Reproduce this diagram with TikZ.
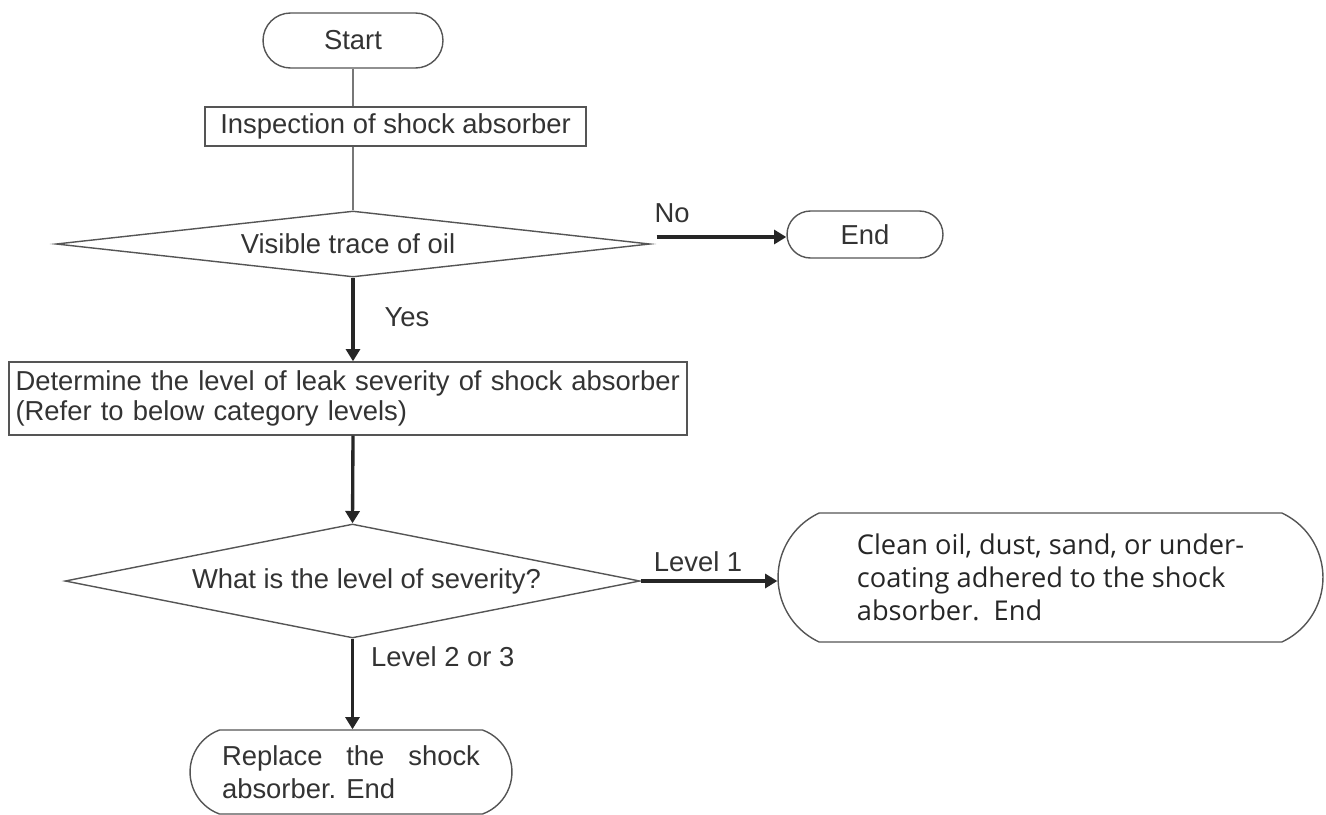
\documentclass[tikz,border=0pt]{standalone}
\usepackage{fontspec}
\setmainfont{Liberation Sans}
\newfontfamily\cleanfont{Open Sans}
\usepackage{xcolor}
\usepackage{tikz}
\usetikzlibrary{positioning,arrows.meta,shapes.geometric,shapes.misc}

\definecolor{edgegray}{HTML}{555555}
\definecolor{inkgray}{HTML}{333333}

\begin{document}
\begin{tikzpicture}[x=0.02cm, y=-0.02cm,
  every node/.style={text=inkgray, font=\fontsize{15.6}{17}\selectfont},
  terminal/.style={draw=edgegray, line width=0.8pt, rounded rectangle, inner sep=0pt},
  process/.style={draw=edgegray, line width=0.8pt, rectangle, inner sep=0pt},
  decision/.style={draw=edgegray, line width=0.8pt, diamond, aspect=10, inner xsep=-2cm, inner ysep=-0.2cm},
  flow/.style={-{Triangle[length=7pt,width=8pt]}, line width=1.9pt, black!85},
  link/.style={draw=edgegray!80, line width=0.6pt},
  tag/.style={inner sep=0pt}]
\useasboundingbox (0,0) rectangle (1326,815);

\node[terminal, minimum width=3.6cm, minimum height=1.1cm] (start) at (353,40.5) {Start};
\node[process, minimum width=7.62cm, minimum height=0.78cm] (inspect) at (395.5,126.5) {Inspection of shock absorber};
\node[decision, minimum width=11.88cm, minimum height=1.32cm] (trace) at (353,244) {Visible trace of oil\hspace*{0.2cm}};
\node[terminal, minimum width=3.12cm, minimum height=0.94cm] (stop) at (865,234.5) {End};
\node[process, minimum width=13.56cm, minimum height=1.46cm, text width=13.3cm, align=left] (level) at (348,398.5)
    {Determine the level of leak severity of shock absorber\\(Refer to below category levels)};
\node[decision, minimum width=11.5cm, minimum height=2.28cm] (severity) at (352.5,581)
    {\hspace*{0.56cm}What is the level of severity?};
\node[terminal, rounded rectangle arc length=130, minimum width=10.9cm, minimum height=2.58cm, align=left,
    font=\cleanfont\fontsize{15.5}{18.8}\selectfont, text=black!85] (clean) at (1050.5,577.5)
    {Clean oil, dust, sand, or under-\\coating adhered to the shock\\absorber.\ \ End};
\node[terminal, rounded rectangle arc length=140, minimum width=6.44cm, minimum height=1.68cm, text width=5.16cm,
    align=justify, font=\fontsize{15.6}{18.8}\selectfont] (replace) at (351,772) {Replace the shock absorber. End};

% connectors
\draw[link] (start.south) -- (start.south |- inspect.north);
\draw[link] (start.south |- inspect.south) -- (trace.north);
\draw[flow] ([xshift=0.12cm,yshift=0.14cm]trace.east) -- ([yshift=0.14cm]trace.east -| stop.west)
    node[tag, pos=0.12, above=0.25cm] {No};
\draw[flow] (trace.south) -- (trace.south |- level.north)
    node[tag, pos=0.47, right=0.6cm] {Yes};
\draw[flow] (trace.south |- level.south) -- (severity.north);
\draw[flow] (severity.east) -- (severity.east -| clean.west)
    node[tag, pos=0.42, above=0.16cm] {Level 1};
\draw[flow] (severity.south) -- (severity.south |- replace.north)
    node[tag, pos=0.2, right=0.34cm] {Level 2 or 3};

\end{tikzpicture}
\end{document}
